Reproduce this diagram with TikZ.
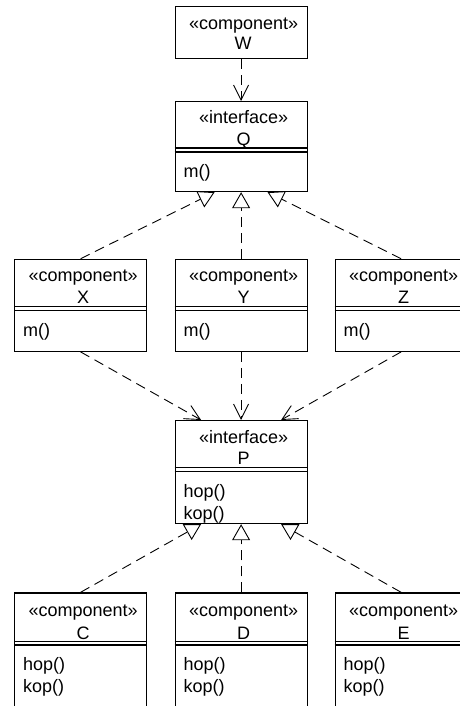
\documentclass[tikz,border=0pt]{standalone}
\usepackage{fontspec}
\setmainfont{Liberation Sans}
\usetikzlibrary{arrows.meta}

\begin{document}
\begin{tikzpicture}[x=1pt,y=1pt]
\tikzstyle{every node}+=[inner sep=0pt,font=\fontsize{18}{22}\selectfont]
\tikzstyle{cls}=[draw,line width=1.2pt,anchor=north west,minimum width=132pt]
\tikzstyle{lbl}=[anchor=base]
\tikzstyle{op}=[anchor=base west]
\tikzstyle{sep}=[line width=1.2pt]
\tikzstyle{dep}=[line width=0.9pt,dash pattern=on 10pt off 6pt,-{Straight Barb[length=15pt,width=15pt]}]
\tikzstyle{real}=[line width=0.9pt,dash pattern=on 10pt off 6pt,-{Triangle[open,length=16pt,width=18pt]}]
\useasboundingbox (0,0) rectangle (459,-706);
% W
\node[cls,minimum height=52pt] (W) at (174.5,-6) {};
\node[lbl] (Ws) at ([xshift=2.5pt,yshift=-24pt]W.north) {«component»};
\node[lbl] (Wn) at ([xshift=2pt,yshift=-44pt]W.north) {W};
% Q
\node[cls,minimum height=90pt] (Q) at (174.5,-101) {};
\node[lbl] (Qs) at ([xshift=2.5pt,yshift=-22.5pt]Q.north) {«interface»};
\node[lbl] (Qn) at ([xshift=2.5pt,yshift=-44.5pt]Q.north) {Q};
\draw[sep] ([yshift=-47pt]Q.north west) -- ([yshift=-47pt]Q.north east);
\draw[sep] ([yshift=-51pt]Q.north west) -- ([yshift=-51pt]Q.north east);
\node[op] (Qm) at ([xshift=9pt,yshift=-76.5pt]Q.north west) {m()};
% X
\node[cls,minimum height=92pt] (X) at (14,-258.7) {};
\node[lbl] (Xs) at ([xshift=2.5pt,yshift=-23pt]X.north) {«component»};
\node[lbl] (Xn) at ([xshift=2.5pt,yshift=-44.5pt]X.north) {X};
\draw[sep] ([yshift=-48pt]X.north west) -- ([yshift=-48pt]X.north east);
\draw[sep] ([yshift=-52pt]X.north west) -- ([yshift=-52pt]X.north east);
\node[op] (Xm) at ([xshift=9pt,yshift=-77.5pt]X.north west) {m()};
% Y
\node[cls,minimum height=92pt] (Y) at (174.5,-258.7) {};
\node[lbl] (Ys) at ([xshift=2.5pt,yshift=-23pt]Y.north) {«component»};
\node[lbl] (Yn) at ([xshift=2.5pt,yshift=-44.5pt]Y.north) {Y};
\draw[sep] ([yshift=-48pt]Y.north west) -- ([yshift=-48pt]Y.north east);
\draw[sep] ([yshift=-52pt]Y.north west) -- ([yshift=-52pt]Y.north east);
\node[op] (Ym) at ([xshift=9pt,yshift=-77.5pt]Y.north west) {m()};
% Z
\node[cls,minimum height=92pt] (Z) at (334.5,-258.7) {};
\node[lbl] (Zs) at ([xshift=2.5pt,yshift=-23pt]Z.north) {«component»};
\node[lbl] (Zn) at ([xshift=2.5pt,yshift=-44.5pt]Z.north) {Z};
\draw[sep] ([yshift=-48pt]Z.north west) -- ([yshift=-48pt]Z.north east);
\draw[sep] ([yshift=-52pt]Z.north west) -- ([yshift=-52pt]Z.north east);
\node[op] (Zm) at ([xshift=9pt,yshift=-77.5pt]Z.north west) {m()};
% P
\node[cls,minimum height=103pt] (P) at (174.5,-420) {};
\node[lbl] (Ps) at ([xshift=2.5pt,yshift=-23pt]P.north) {«interface»};
\node[lbl] (Pn) at ([xshift=2.5pt,yshift=-44pt]P.north) {P};
\draw[sep] ([yshift=-47.7pt]P.north west) -- ([yshift=-47.7pt]P.north east);
\draw[sep] ([yshift=-51.7pt]P.north west) -- ([yshift=-51.7pt]P.north east);
\node[op] (Ph) at ([xshift=9pt,yshift=-77pt]P.north west) {hop()};
\node[op] (Pk) at ([xshift=9pt,yshift=-99pt]P.north west) {kop()};
% C
\node[cls,minimum height=130pt] (C) at (14,-592.3) {};
\node[lbl] (Cs) at ([xshift=2.5pt,yshift=-24.5pt]C.north) {«component»};
\node[lbl] (Cn) at ([xshift=2.5pt,yshift=-47pt]C.north) {C};
\draw[sep] ([yshift=-49.4pt]C.north west) -- ([yshift=-49.4pt]C.north east);
\draw[sep] ([yshift=-52.6pt]C.north west) -- ([yshift=-52.6pt]C.north east);
\node[op] (Ch) at ([xshift=9pt,yshift=-77.7pt]C.north west) {hop()};
\node[op] (Ck) at ([xshift=9pt,yshift=-99.7pt]C.north west) {kop()};
% D
\node[cls,minimum height=130pt] (D) at (174.5,-592.3) {};
\node[lbl] (Ds) at ([xshift=2.5pt,yshift=-24.5pt]D.north) {«component»};
\node[lbl] (Dn) at ([xshift=2.5pt,yshift=-47pt]D.north) {D};
\draw[sep] ([yshift=-49.4pt]D.north west) -- ([yshift=-49.4pt]D.north east);
\draw[sep] ([yshift=-52.6pt]D.north west) -- ([yshift=-52.6pt]D.north east);
\node[op] (Dh) at ([xshift=9pt,yshift=-77.7pt]D.north west) {hop()};
\node[op] (Dk) at ([xshift=9pt,yshift=-99.7pt]D.north west) {kop()};
% E
\node[cls,minimum height=130pt] (E) at (334.5,-592.3) {};
\node[lbl] (Es) at ([xshift=2.5pt,yshift=-24.5pt]E.north) {«component»};
\node[lbl] (En) at ([xshift=2.5pt,yshift=-47pt]E.north) {E};
\draw[sep] ([yshift=-49.4pt]E.north west) -- ([yshift=-49.4pt]E.north east);
\draw[sep] ([yshift=-52.6pt]E.north west) -- ([yshift=-52.6pt]E.north east);
\node[op] (Eh) at ([xshift=9pt,yshift=-77.7pt]E.north west) {hop()};
\node[op] (Ek) at ([xshift=9pt,yshift=-99.7pt]E.north west) {kop()};
% connectors
\draw[dep] (W.south) -- (Q.north);
\draw[real] (X.north) -- ([xshift=-26.5pt]Q.south);
\draw[real] (Y.north) -- (Q.south);
\draw[real] (Z.north) -- ([xshift=26.5pt]Q.south);
\draw[dep] (X.south) -- ([xshift=-40pt]P.north);
\draw[dep] (Y.south) -- (P.north);
\draw[dep] (Z.south) -- ([xshift=40pt]P.north);
\draw[real] (C.north) -- ([xshift=-40pt]P.south);
\draw[real] (D.north) -- (P.south);
\draw[real] (E.north) -- ([xshift=40pt]P.south);
\end{tikzpicture}
\end{document}
